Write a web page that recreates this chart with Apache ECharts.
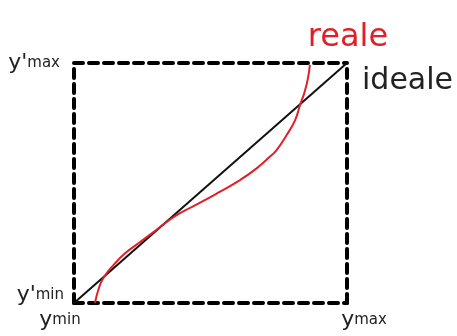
<!DOCTYPE html>
<html>
<head>
<meta charset="utf-8">
<script src="https://cdn.jsdelivr.net/npm/echarts@6/dist/echarts.min.js"></script>
<style>
  html, body { margin: 0; padding: 0; background: #fff; }
  #chart { width: 457px; height: 336px; }
</style>
</head>
<body>
<div id="chart"></div>
<script>
// normalised range: 0 = min, 1 = max
const xTicks = [0, 1]
const xTickLabels = ['min', 'max']
const yTickLabels = ['min', 'max']

// ideal transfer characteristic (straight line)
const idealX = [0, 1]
const idealY = [0, 1]

const realX = [0.077, 0.089, 0.107, 0.150, 0.187, 0.236, 0.285, 0.333, 0.370, 0.407, 0.462, 0.535, 0.608, 0.669, 0.718, 0.742, 0.779, 0.810, 0.828, 0.845, 0.858, 0.864]
const realY = [0.0, 0.054, 0.103, 0.165, 0.207, 0.249, 0.290, 0.332, 0.362, 0.386, 0.418, 0.464, 0.512, 0.561, 0.610, 0.637, 0.700, 0.762, 0.825, 0.880, 0.943, 0.992]

const FONT = 'DejaVu Sans'
const TEXT = '#222'

const chart = echarts.init(document.getElementById('chart'))

const dashedLine = {
  show: true,
  onZero: false,
  lineStyle: { color: '#000', width: 4, type: [9, 6] }
}

const big = { fontSize: 22, color: TEXT, fontFamily: FONT }
const small = { fontSize: 15, color: TEXT, fontFamily: FONT }

const option = {
  animation: false,
  textStyle: { fontFamily: FONT },
  grid: { left: 74, right: 110, top: 63, bottom: 33 },
  xAxis: [
    {
      type: 'value', min: xTicks[0], max: xTicks[1], interval: 1,
      axisLine: dashedLine,
      axisTick: { show: false },
      splitLine: { show: false },
      axisLabel: {
        margin: 6,
        formatter: (v) => {
          const i = xTicks.indexOf(v)
          return '{y' + i + '|y}{s' + i + '|' + xTickLabels[i] + '}'
        },
        rich: {
          y0: big,
          s0: Object.assign({}, small, { padding: [0, 28, 0, 0] }),
          y1: Object.assign({}, big, { padding: [0, 0, 0, 34] }),
          s1: small
        }
      }
    },
    {
      type: 'value', position: 'top', min: 0, max: 1, interval: 1,
      axisLine: dashedLine,
      axisTick: { show: false },
      axisLabel: { show: false },
      splitLine: { show: false }
    }
  ],
  yAxis: [
    {
      type: 'value', min: 0, max: 1, interval: 1,
      axisLine: dashedLine,
      axisTick: { show: false },
      splitLine: { show: false },
      axisLabel: {
        margin: 10,
        formatter: (v) => {
          const i = v === 0 ? 0 : 1
          return '{y' + i + '|y\'}{s' + i + '|' + yTickLabels[i] + '}'
        },
        rich: {
          y0: Object.assign({}, big, { padding: [0, 0, 16, 0] }),
          s0: Object.assign({}, small, { padding: [0, 0, 16, 0] }),
          y1: big,
          s1: Object.assign({}, small, { padding: [0, 4, 0, 0] })
        }
      }
    },
    {
      type: 'value', position: 'right', min: 0, max: 1, interval: 1,
      axisLine: dashedLine,
      axisTick: { show: false },
      axisLabel: { show: false },
      splitLine: { show: false }
    }
  ],
  series: [
    {
      name: 'ideale',
      type: 'line',
      data: idealX.map((x, i) => [x, idealY[i]]),
      symbol: 'none',
      lineStyle: { color: '#111', width: 2 },
      endLabel: {
        show: true,
        formatter: '{a}',
        color: TEXT,
        fontSize: 30,
        fontFamily: FONT,
        offset: [7, 18]
      },
      z: 3
    },
    {
      name: 'reale',
      type: 'line',
      data: realX.map((x, i) => [x, realY[i]]),
      symbol: 'none',
      smooth: 0.5,
      lineStyle: { color: '#e02027', width: 2 },
      endLabel: {
        show: true,
        formatter: '{a}',
        color: '#e02027',
        fontSize: 32,
        fontFamily: FONT,
        offset: [-10, -27]
      },
      z: 4
    }
  ]
}

chart.setOption(option)
</script>
</body>
</html>
